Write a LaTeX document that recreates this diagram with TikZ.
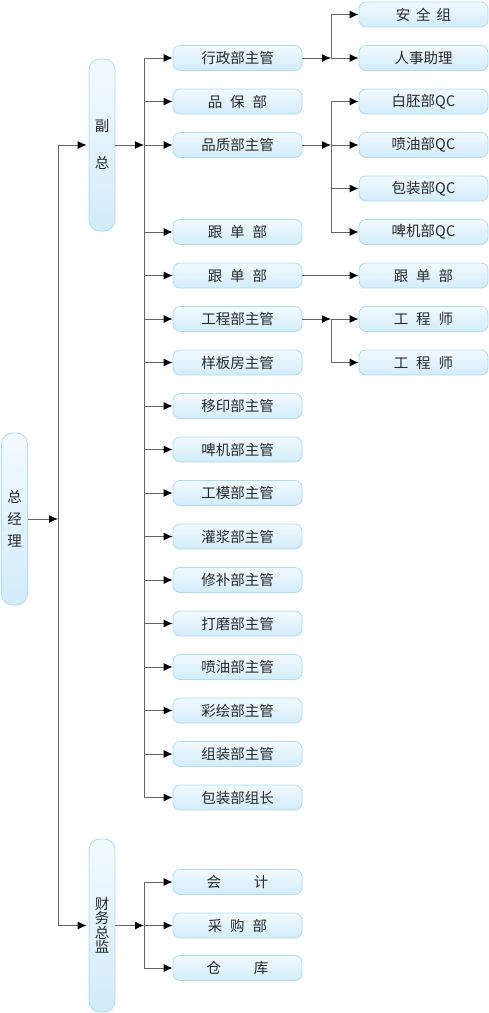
\documentclass[tikz,border=0pt]{standalone}
\usepackage{fontspec}
\setmainfont{Noto Sans CJK SC}
\usetikzlibrary{arrows.meta}

\definecolor{boxline}{RGB}{170,220,243}
\definecolor{boxtop}{RGB}{243,250,254}
\definecolor{boxbot}{RGB}{210,236,250}
\definecolor{wiregray}{RGB}{100,100,100}
\definecolor{txt}{RGB}{40,40,40}
\newcommand{\kgap}{\hspace{8pt}}

\tikzset{
  unit/.style={draw=boxline, line width=0.8pt, rounded corners=7pt,
    top color=boxtop, bottom color=boxbot, minimum width=129pt,
    minimum height=25pt, inner sep=0pt, text=txt,
    font=\fontsize{14.5}{16}\selectfont},
  head/.style={unit, minimum width=26pt, minimum height=172pt,
    rounded corners=11pt, align=center},
  wire/.style={draw=wiregray, line width=0.9pt},
  feed/.style={wire, -{Latex[length=9pt,width=8pt,color=black]}},
}

\begin{document}
\begin{tikzpicture}[x=1pt, y=-1pt]
    \useasboundingbox (0,0) rectangle (489,1013);

    % heads
    \node[head] (zjl) at (14.5,519) {总\\[6pt]经\\[6pt]理};
    \node[head] (fz) at (102,145) {副\\[21pt]总};
    \node[head, minimum height=173pt] (cw) at (102,925.5) {财\\[-1.5pt]务\\[-1.5pt]总\\[-1.5pt]监};

    \coordinate (trunk) at (58,0);
    \coordinate (bus) at (144,0);
    \coordinate (sub) at (331,0);

    % second level
    \node[unit] (xz) at (237.5,58) {行政部主管};
    \node[unit] (pb) at (237.5,101.5) {品\kgap 保\kgap 部};
    \node[unit] (pz) at (237.5,145) {品质部主管};
    \node[unit] (gd) at (237.5,232) {跟\kgap 单\kgap 部};
    \node[unit] (gd2) at (237.5,275.5) {跟\kgap 单\kgap 部};
    \node[unit] (gc) at (237.5,319) {工程部主管};
    \node[unit] (yb) at (237.5,362.5) {样板房主管};
    \node[unit] (yy) at (237.5,406) {移印部主管};
    \node[unit] (pj) at (237.5,449.5) {啤机部主管};
    \node[unit] (gm) at (237.5,493) {工模部主管};
    \node[unit] (gj) at (237.5,536.5) {灌浆部主管};
    \node[unit] (xb) at (237.5,580) {修补部主管};
    \node[unit] (dm) at (237.5,623.5) {打磨部主管};
    \node[unit] (py) at (237.5,667) {喷油部主管};
    \node[unit] (ch) at (237.5,710.5) {彩绘部主管};
    \node[unit] (zz) at (237.5,754) {组装部主管};
    \node[unit] (bz) at (237.5,797.5) {包装部组长};

    \node[unit] (kj) at (237.5,882) {会\hspace{33pt}计};
    \node[unit] (cg) at (237.5,925.5) {采\kgap 购\kgap 部};
    \node[unit] (ck) at (237.5,968) {仓\hspace{33pt}库};

    % third level
    \node[unit] (aq) at (423.5,14.5) {安\hspace{6pt}全\hspace{6pt}组};
    \node[unit] (rs) at (423.5,58) {人事助理};
    \node[unit] (bp) at (423.5,101.5) {白胚部QC};
    \node[unit] (pyqc) at (423.5,145) {喷油部QC};
    \node[unit] (bzqc) at (423.5,188.5) {包装部QC};
    \node[unit] (pjqc) at (423.5,232) {啤机部QC};
    \node[unit] (gd3) at (423.5,275.5) {跟\kgap 单\kgap 部};
    \node[unit] (gcs1) at (423.5,319) {工\kgap 程\kgap 师};
    \node[unit] (gcs2) at (423.5,362.5) {工\kgap 程\kgap 师};

    % trunk
    \draw[feed] (zjl.east) -- (zjl.east -| trunk);
    \draw[wire] (fz.west -| trunk) -- (cw.west -| trunk);
    \draw[feed, shorten >=2pt] (fz.west -| trunk) -- (fz.west);
    \draw[feed, shorten >=2pt] (cw.west -| trunk) -- (cw.west);

    % vice head
    \draw[feed] (fz.east) -- (fz.east -| bus);
    \draw[wire] (xz.west -| bus) -- (bz.west -| bus);
    \draw[feed] (xz.west -| bus) -- (xz.west);
    \draw[feed] (pb.west -| bus) -- (pb.west);
    \draw[feed] (pz.west -| bus) -- (pz.west);
    \draw[feed] (gd.west -| bus) -- (gd.west);
    \draw[feed] (gd2.west -| bus) -- (gd2.west);
    \draw[feed] (gc.west -| bus) -- (gc.west);
    \draw[feed] (yb.west -| bus) -- (yb.west);
    \draw[feed] (yy.west -| bus) -- (yy.west);
    \draw[feed] (pj.west -| bus) -- (pj.west);
    \draw[feed] (gm.west -| bus) -- (gm.west);
    \draw[feed] (gj.west -| bus) -- (gj.west);
    \draw[feed] (xb.west -| bus) -- (xb.west);
    \draw[feed] (dm.west -| bus) -- (dm.west);
    \draw[feed] (py.west -| bus) -- (py.west);
    \draw[feed] (ch.west -| bus) -- (ch.west);
    \draw[feed] (zz.west -| bus) -- (zz.west);
    \draw[feed] (bz.west -| bus) -- (bz.west);

    % finance
    \draw[feed] (cw.east) -- (cw.east -| bus);
    \draw[wire] (kj.west -| bus) -- (ck.west -| bus);
    \draw[feed] (kj.west -| bus) -- (kj.west);
    \draw[feed] (cg.west -| bus) -- (cg.west);
    \draw[feed] (ck.west -| bus) -- (ck.west);

    % third level links
    \draw[feed] (xz.east) -- (xz.east -| sub);
    \draw[wire] (aq.west -| sub) -- (rs.west -| sub);
    \draw[feed] (aq.west -| sub) -- (aq.west);
    \draw[feed] (rs.west -| sub) -- (rs.west);

    \draw[feed] (pz.east) -- (pz.east -| sub);
    \draw[wire] (bp.west -| sub) -- (pjqc.west -| sub);
    \draw[feed] (bp.west -| sub) -- (bp.west);
    \draw[feed] (pyqc.west -| sub) -- (pyqc.west);
    \draw[feed] (bzqc.west -| sub) -- (bzqc.west);
    \draw[feed] (pjqc.west -| sub) -- (pjqc.west);

    \draw[feed] (gd2.east) -- (gd3.west);

    \draw[feed] (gc.east) -- (gc.east -| sub);
    \draw[wire] (gcs1.west -| sub) -- (gcs2.west -| sub);
    \draw[feed] (gcs1.west -| sub) -- (gcs1.west);
    \draw[feed] (gcs2.west -| sub) -- (gcs2.west);
\end{tikzpicture}
\end{document}
